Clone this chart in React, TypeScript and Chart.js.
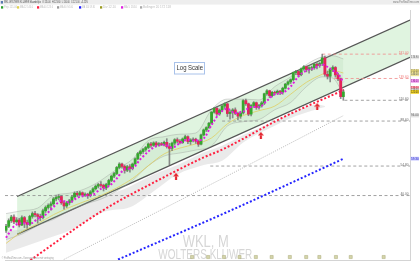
import React, { useEffect, useRef } from "react";
import { Chart, registerables } from "chart.js";
Chart.register(...registerables);

// ---------- data (month index 0 = Jan 2015) ----------
const START_YEAR = 2015;
const opens = [27.6,28.8,30.6,31.8,30.2,30.8,29.2,31.6,30.0,29.4,32.0,33.0,
32.6,32.0,31.6,34.0,35.2,36.0,36.6,38.6,39.2,39.6,37.0,35.8,
37.0,37.8,39.4,41.0,40.4,41.2,40.2,40.6,40.0,41.6,43.0,44.2,
45.0,44.6,43.4,45.0,47.0,49.2,50.6,54.0,56.0,54.6,52.4,54.4,
53.4,56.0,59.2,62.6,64.0,65.4,66.8,69.4,68.4,70.2,68.6,69.6,
69.0,70.6,67.4,66.2,70.0,72.6,71.4,70.4,73.2,75.0,71.2,72.4,
73.0,71.4,69.2,76.4,80.6,82.6,86.6,97.4,101.6,95.6,99.6,104.0,
106.4,96.0,97.4,99.8,96.2,93.4,96.6,110.2,106.6,95.4,104.6,107.8,
102.6,104.4,107.6,118.6,122.4,116.2,120.4,119.6,121.8,120.6,125.8,131.4,
134.6,137.8,148.6,150.4,145.2,154.6,158.4,153.6,156.4,156.8,162.6,160.4,
163.8,174.0,146.0,143.0,154.0,157.0,145.0,139.0,115.0];
const highs = [29.4,31.2,32.4,32.6,31.6,31.4,32.2,32.0,30.8,32.4,33.6,33.8,
33.0,32.8,34.6,35.8,36.6,37.4,39.2,39.8,40.4,40.0,37.6,37.6,
38.4,40.0,41.6,41.8,41.8,41.6,41.2,41.0,42.2,43.6,44.8,45.6,
46.4,45.2,45.6,47.6,49.8,51.2,54.6,56.8,56.6,55.4,55.2,55.6,
56.6,59.8,63.4,64.8,66.2,67.6,70.2,70.6,71.0,71.2,70.4,70.6,
71.6,73.4,69.8,70.8,73.4,74.0,72.8,74.0,76.2,75.6,73.4,74.0,
73.8,72.4,77.0,81.4,83.4,87.4,98.2,102.6,103.2,100.8,105.4,107.6,
107.0,99.6,101.2,102.0,97.6,98.4,111.4,112.0,107.4,105.6,109.0,108.6,
106.0,109.2,119.4,124.0,123.2,121.6,122.0,123.4,123.0,127.2,132.6,136.0,
139.0,149.6,152.4,151.6,156.2,160.2,159.6,158.2,159.4,164.6,165.0,165.6,
181.0,177.4,151.2,156.0,159.8,158.6,147.4,140.4,123.6];
const lows = [27.0,28.4,30.0,29.6,29.8,28.6,29.0,28.4,28.2,29.0,31.4,31.8,
29.8,30.6,31.2,33.4,34.6,34.2,36.0,37.8,38.2,36.4,34.6,35.2,
36.2,37.2,38.8,39.6,39.8,39.4,39.6,38.8,39.4,41.0,42.4,43.4,
43.8,42.0,42.6,44.4,46.4,48.4,50.0,53.2,53.6,50.8,51.6,51.4,
52.6,55.4,58.6,61.4,62.8,64.2,66.0,66.8,67.6,67.2,67.8,68.2,
68.0,66.4,55.6,64.6,68.6,70.2,69.4,69.8,72.0,69.6,69.0,71.0,
69.8,67.6,68.6,75.6,79.2,81.8,86.0,96.4,94.0,94.2,98.2,101.4,
93.0,90.4,91.6,94.8,89.6,91.2,95.4,104.8,93.8,93.6,102.6,100.4,
100.6,102.8,105.6,116.8,113.8,114.6,117.2,117.6,117.4,118.0,124.6,129.8,
132.2,136.4,145.4,141.8,143.6,152.4,149.8,147.6,151.8,154.0,154.6,157.2,
160.2,143.2,138.8,134.6,150.2,141.6,136.2,112.6,110.6];
const closes = [28.8,30.6,31.8,30.2,30.8,29.2,31.6,30.0,29.4,32.0,33.0,32.6,
32.0,31.6,34.0,35.2,36.0,36.6,38.6,39.2,39.6,37.0,35.8,37.0,
37.8,39.4,41.0,40.4,41.2,40.2,40.6,40.0,41.6,43.0,44.2,45.0,
44.6,43.4,45.0,47.0,49.2,50.6,54.0,56.0,54.6,52.4,54.4,53.4,
56.0,59.2,62.6,64.0,65.4,66.8,69.4,68.4,70.2,68.6,69.6,69.0,
70.6,67.4,66.2,70.0,72.6,71.4,70.4,73.2,75.0,71.2,72.4,73.0,
71.4,69.2,76.4,80.6,82.6,86.6,97.4,101.6,95.6,99.6,104.0,106.4,
96.0,97.4,99.8,96.2,93.4,96.6,110.2,106.6,95.4,104.6,107.8,102.6,
104.4,107.6,118.6,122.4,116.2,120.4,119.6,121.8,120.6,125.8,131.4,134.6,
137.8,148.6,150.4,145.2,154.6,158.4,153.6,156.4,156.8,162.6,160.4,163.8,
174.0,146.0,143.0,154.0,157.0,145.0,139.0,115.0,121.0];

// short moving average (magenta dotted)
const magentaX = [0,3,6,9,12,15,18,21,24,27,30,33,36,39,42,45,48,51,54,57,60,63,66,69,72,75,78,81,84,87,90,93,96,99,102,105,108,111,114,117,120,122,124,126,128];
const magentaY = [25.5,28.8,29.8,29.6,31.2,32.6,35.4,37.8,37.2,39.0,40.0,40.4,43.0,44.2,48.0,53.0,53.6,59.0,64.0,67.8,68.8,66.8,70.0,72.6,72.0,73.6,85.0,96.0,101.0,96.5,98.0,103.0,103.0,110.0,118.0,120.0,128.0,143.0,152.0,156.0,162.0,158.0,152.0,147.0,134.0];
// medium moving average (yellow)
const yellowX = [0,6,12,18,24,30,36,42,48,54,60,66,72,78,84,90,96,102,108,114,120,124,128];
const yellowY = [24.0,27.2,29.6,32.6,35.2,37.6,40.0,43.4,48.0,55.0,62.4,66.4,69.4,74.0,86.0,94.0,99.0,104.0,118.0,134.0,146.0,152.0,148.0];
// envelope around price
const bandX = [0,6,12,18,24,30,36,42,48,54,60,66,72,78,84,90,96,102,108,114,120,124,128];
const bandUp = [33,34,35,40,41,43,47,53,59,72,75,77,78,100,112,112,111,128,142,162,176,178,172];
const bandLo = [25,26.5,29,31,34,36.5,38.5,42,47,55,61,63,65,68,84,88,90,100,108,128,142,140,118];
// grey shaded zone below the channel
const shadeX = [0,12.5,25,37.5,47,56,65,75,82,90,100,110,118,121];
const shadeTop = [27.3,29.0,34.4,39.7,44.1,50.1,55.4,63.3,68.0,76.4,86.1,98.4,105.6,104];
const shadeBot = [21.7,24.5,27.8,33.7,35.3,41.9,50.1,55.4,58.0,70.5,82.0,93.5,100.6,103];
// long averages
const redX = [8,37.5,56.25,75,81.75,105,128.25];
const redY = [19.6,34.6,46.1,60.1,65.1,92.0,123.6];
const greyX = [21.9,75,128.1];
const greyY = [20.2,43.3,94.0];
const blueX = [42.5,85,128.1];
const blueY = [20.2,34.0,59.3];
// regression channel end points
const channelX = [4.2,153.3];
const channelUp = [39.6,260.3];
const channelLo = [26.4,174.9];
// horizontal levels
const levelValues = [181.0,139.6,110.6,88.6,54.8,40.0];
const levelFrom = [120,124.5,128.4,82,77.5,-0.4];
const levelPink = [true,true,false,false,false,false];
// signals and dividend marks
const arrowX = [64.5,96.7,118.1];
const arrowY = [49.1,76.0,103.4];
const dividendX = [70.6,76.7,82.7,88.6,94.8,100.8,107.7,113.9,118.9,125.2,130.8,143.3];
const dividendY = 20.75;
// axes
const yearTicks = [12,24,36,48,60,72,84,96,108,120,132,144];
const priceTicks = [25,30,40,50,70,100,150,200,250];
// right-side value tags
const tagValues = [174.9,151.0,146.0,136.0,126.0,123.0,121.0,94.0,59.3];
const tagBg = ["#e6e6e6","#f3e27a","#efe49a","#f2a6f2","#ff9fae","#dcdcdc","#f2d21b","#e2e2e2","#c9c9ff"];
const tagFg = ["#555","#555","#555","#800080","#a00020","#555","#333","#555","#2020c0"];
const legendItems = [
  { c: "#2ca02c", t: "Prijs 121.00" },
  { c: "#e0d050", t: "MA 12 146.0" },
  { c: "#ff2040", t: "MA 40 123.6" },
  { c: "#999999", t: "MA 60 94.00" },
  { c: "#2020ff", t: "MA 100 59.30" },
  { c: "#9a9a20", t: "Div 12.10" },
  { c: "#e020e0", t: "MA 5 134.0" },
  { c: "#aaaaaa", t: "Bollinger 20 172 118" },
];
const legendPos = [1, 17, 37, 57, 79, 100, 121, 140];

const FONT = "'Liberation Sans', Arial, sans-serif";
const pts = (xs: number[], ys: number[]) => xs.map((x, i) => ({ x, y: ys[i] }));

function makeArrow() {
  const c = document.createElement("canvas");
  c.width = 6; c.height = 7;
  const g = c.getContext("2d")!;
  g.fillStyle = "#e3262f";
  g.beginPath(); g.moveTo(3, 0); g.lineTo(6, 3.5); g.lineTo(0, 3.5); g.closePath(); g.fill();
  g.fillRect(1.9, 3.4, 2.2, 3.6);
  return c;
}

const overlay = {
  id: "overlay",
  beforeDatasetsDraw(chart: any) {
    const ctx = chart.ctx;
    ctx.save();
    ctx.fillStyle = "#d6d6d6";
    ctx.textBaseline = "alphabetic";
    ctx.textAlign = "left";
    ctx.font = `17px ${FONT}`;
    ctx.fillText("WKL, M", 182.7, 247.3, 46);
    ctx.font = `14px ${FONT}`;
    ctx.fillText("WOLTERS KLUWER", 158.3, 259.3, 94);
    ctx.restore();
  },
  afterDraw(chart: any) {
    const ctx = chart.ctx;
    const ys = chart.scales.y;
    ctx.save();
    // header strip
    ctx.fillStyle = "#eeeeee";
    ctx.fillRect(0, 0, 420, 4.6);
    ctx.fillStyle = "#5a7ab0";
    ctx.fillRect(0.8, 1, 2.2, 2.6);
    ctx.fillStyle = "#444";
    ctx.font = `3.4px ${FONT}`;
    ctx.textBaseline = "middle";
    ctx.fillText("WKL WOLTERS KLUWER Maandelijks  O:115.00  H:123.60  L:110.60  C:121.00  +5.22%", 4, 2.4, 84);
    ctx.fillStyle = "#777";
    ctx.textAlign = "right";
    ctx.fillText("www.ProRealTime.com", 419, 2.4, 26);
    ctx.textAlign = "left";
    legendItems.forEach((it, i) => {
      const x = legendPos[i];
      ctx.fillStyle = it.c;
      ctx.fillRect(x, 6.2, 2.2, 2.4);
      ctx.fillStyle = "#bbb";
      ctx.fillText(it.t, x + 3, 7.5, i === 7 ? 28 : 13);
    });
    // Log Scale box
    ctx.fillStyle = "#ffffff";
    ctx.fillRect(174.5, 62.5, 30, 11.5);
    ctx.strokeStyle = "#a9c2ea";
    ctx.lineWidth = 1;
    ctx.strokeRect(174.5, 62.5, 30, 11.5);
    ctx.fillStyle = "#333";
    ctx.font = `6.4px ${FONT}`;
    ctx.textBaseline = "middle";
    ctx.fillText("Log Scale", 176.5, 68.4, 26.5);
    // level labels
    ctx.font = `3.2px ${FONT}`;
    ctx.textAlign = "right";
    levelValues.forEach((v, i) => {
      const y = ys.getPixelForValue(v);
      ctx.fillStyle = levelPink[i] ? "#f07c7c" : "#666";
      ctx.fillText(v.toFixed(2), 408.5, y - 1.4);
    });
    // value tags on the axis
    ctx.textAlign = "left";
    tagValues.forEach((v, i) => {
      const y = ys.getPixelForValue(v);
      ctx.fillStyle = tagBg[i];
      ctx.fillRect(410.5, y - 1.9, 8.5, 3.8);
      ctx.fillStyle = tagFg[i];
      ctx.fillText(v.toFixed(2), 411, y, 7.6);
    });
    // copyright
    ctx.fillStyle = "#999";
    ctx.font = `2.8px ${FONT}`;
    ctx.fillText("\u00a9 ProRealTime.com - Koersgegevens met vertraging", 1.7, 258.6, 52);
    ctx.restore();
  },
};

export default function App() {
  const ref = useRef<HTMLCanvasElement>(null);
  useEffect(() => {
    document.body.style.margin = "0";
    Chart.defaults.font.family = FONT;
    const arrow = makeArrow();
    const candleColors = closes.map((c, i) => (c >= opens[i] ? "#36a72e" : "#e3245a"));
    const line = (data: any[], extra: any) => ({
      type: "line",
      data,
      pointRadius: 0,
      borderWidth: 1,
      fill: false,
      ...extra,
    });
    const levelSets = levelValues.map((v, i) =>
      line(
        [
          { x: levelFrom[i], y: v },
          { x: 153.3, y: v },
        ],
        {
          borderColor: levelPink[i] ? "rgba(240,140,140,0.9)" : "rgba(140,140,140,0.9)",
          borderDash: [3, 2.5],
          borderWidth: 0.9,
          order: 70,
        }
      )
    );
    const chart = new Chart(ref.current!, {
      type: "bar",
      data: {
        datasets: [
          line(pts(shadeX, shadeTop), { borderWidth: 0, borderColor: "rgba(0,0,0,0)", fill: "+1", backgroundColor: "rgba(205,205,205,0.42)", order: 100, cubicInterpolationMode: "monotone" }),
          line(pts(shadeX, shadeBot), { borderWidth: 0, borderColor: "rgba(0,0,0,0)", order: 99, cubicInterpolationMode: "monotone" }),
          line(pts(channelX, channelUp), { borderColor: "#555", borderWidth: 1.3, fill: "+1", backgroundColor: "rgba(170,225,170,0.36)", order: 90 }),
          line(pts(channelX, channelLo), { borderColor: "#555", borderWidth: 1.3, order: 89 }),
          line(pts(bandX, bandUp), { borderColor: "rgba(150,150,150,0.55)", borderWidth: 0.7, fill: "+1", backgroundColor: "rgba(150,200,150,0.14)", order: 80, cubicInterpolationMode: "monotone" }),
          line(pts(bandX, bandLo), { borderColor: "rgba(150,150,150,0.55)", borderWidth: 0.7, order: 79, cubicInterpolationMode: "monotone" }),
          ...levelSets,
          line(pts(greyX, greyY), { borderColor: "#b8b8b8", borderWidth: 1, borderDash: [1, 1.2], order: 62, cubicInterpolationMode: "monotone" }),
          line(pts(blueX, blueY), { borderColor: "#2424ff", borderWidth: 2, borderDash: [2, 2], order: 61, cubicInterpolationMode: "monotone" }),
          line(pts(redX, redY), { borderColor: "#ff2040", borderWidth: 2, borderDash: [2, 2], order: 60, cubicInterpolationMode: "monotone" }),
          line(pts(yellowX, yellowY), { borderColor: "rgba(225,205,90,0.95)", borderWidth: 0.8, order: 50, cubicInterpolationMode: "monotone" }),
          {
            type: "bar",
            data: closes.map((c, i) => ({ x: i, y: [lows[i], highs[i]] })),
            backgroundColor: "rgba(120,120,120,0.85)",
            barThickness: 1,
            grouped: false,
            order: 21,
          },
          {
            type: "bar",
            data: closes.map((c, i) => ({ x: i, y: [opens[i], c] })),
            backgroundColor: candleColors,
            barThickness: 2.2,
            grouped: false,
            order: 20,
          },
          line(pts(magentaX, magentaY), { borderColor: "#e01ee0", borderWidth: 2, borderDash: [2, 2], order: 10, cubicInterpolationMode: "monotone" }),
          line(pts(arrowX, arrowY), { showLine: false, pointStyle: arrow, pointRadius: 3.5, order: 5 }),
          line(dividendX.map((x) => ({ x, y: dividendY })), {
            showLine: false,
            pointStyle: "rect",
            pointRadius: 2.2,
            backgroundColor: "rgba(210,210,165,0.95)",
            borderColor: "rgba(165,165,110,0.9)",
            borderWidth: 0.5,
            order: 5,
          }),
        ] as any,
      },
      options: {
        animation: false,
        responsive: false,
        devicePixelRatio: 1,
        events: [],
        layout: { padding: { top: 10, left: 0, right: 0, bottom: 0 } },
        plugins: { legend: { display: false }, tooltip: { enabled: false }, title: { display: false } },
        scales: {
          x: {
            type: "linear",
            min: -0.4,
            max: 153.3,
            offset: false,
            grid: { display: false, offset: false },
            border: { display: true, color: "#d4d4d4" },
            ticks: {
              font: { size: 4 },
              color: "#aaa",
              padding: 0.5,
              maxRotation: 0,
              autoSkip: false,
              callback: (v: any) => String(START_YEAR + Number(v) / 12),
            },
            afterBuildTicks: (s: any) => {
              s.ticks = yearTicks.map((v) => ({ value: v }));
            },
            afterFit: (s: any) => {
              s.height = 4.5;
            },
          },
          y: {
            type: "logarithmic",
            position: "right",
            min: 20.1,
            max: 290,
            grid: { display: false },
            border: { display: true, color: "#d4d4d4" },
            ticks: {
              font: { size: 4 },
              color: "#aaa",
              padding: 2,
              callback: (v: any) => String(v),
            },
            afterBuildTicks: (s: any) => {
              s.ticks = priceTicks.map((v) => ({ value: v }));
            },
            afterFit: (s: any) => {
              s.width = 10;
            },
          },
        },
      } as any,
      plugins: [overlay],
    } as any);
    return () => chart.destroy();
  }, []);
  return (
    <div style={{ position: "absolute", left: 0, top: 0, width: 420, height: 265, background: "#fff" }}>
      <canvas ref={ref} width={420} height={265} style={{ width: 420, height: 265, display: "block" }} />
    </div>
  );
}
